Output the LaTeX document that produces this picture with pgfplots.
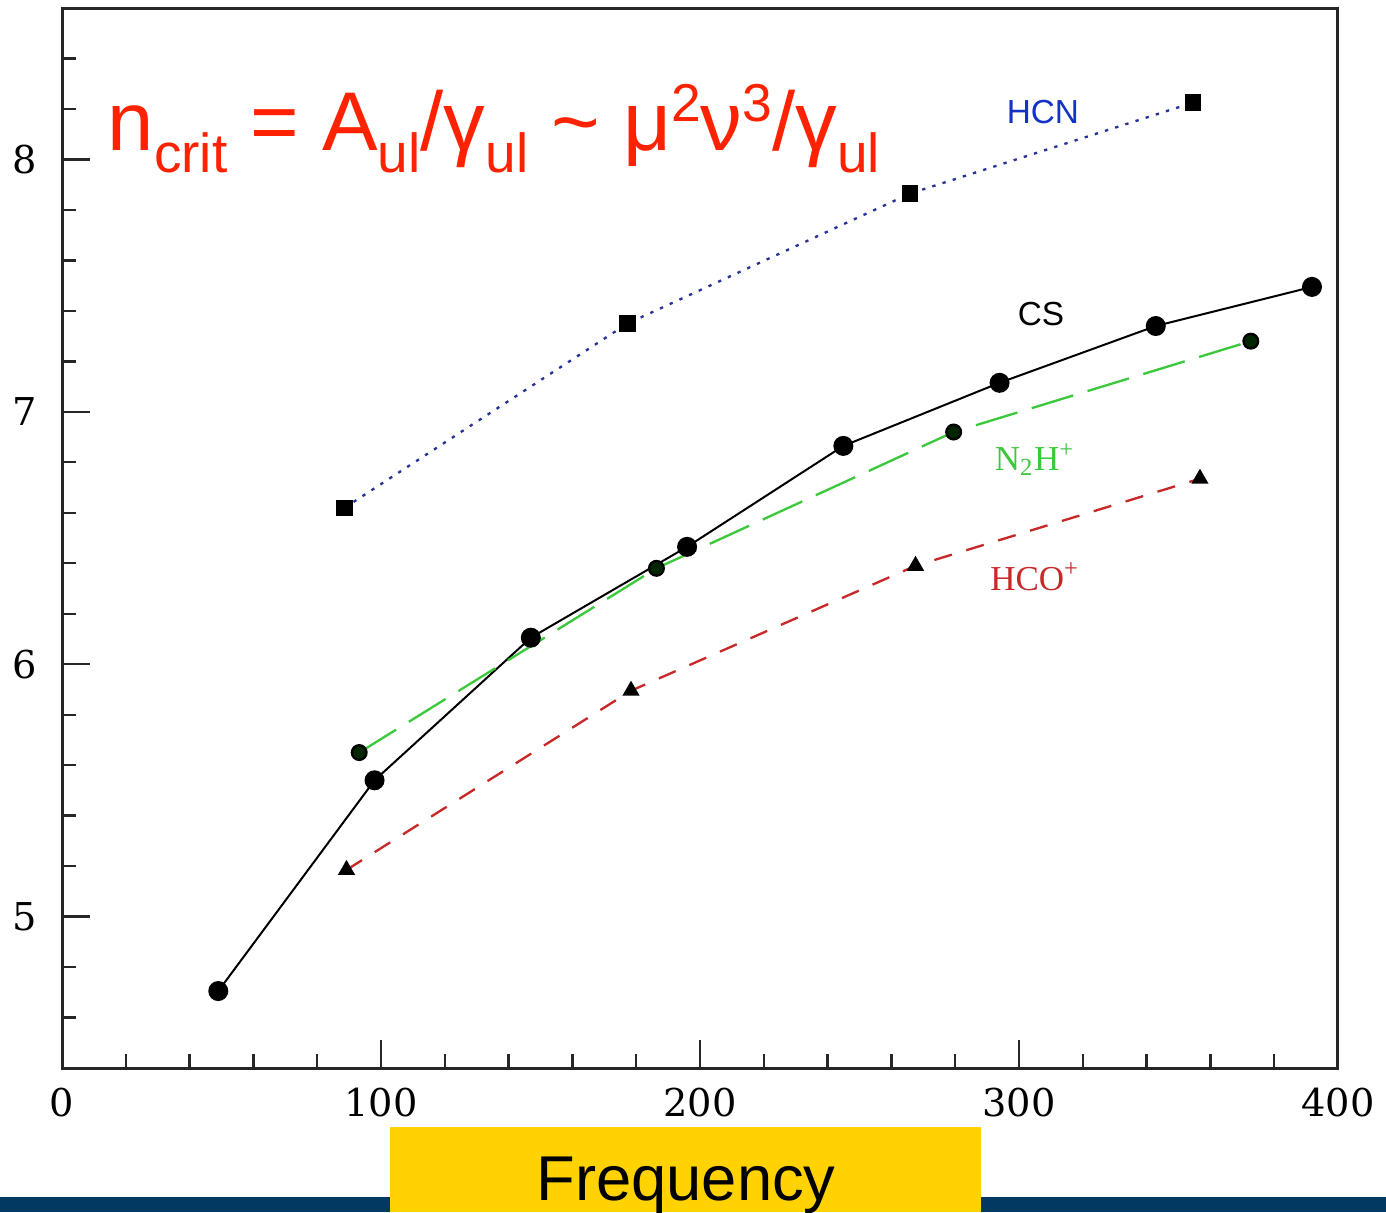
\documentclass[border=0pt]{standalone}
\usepackage{fontspec}
\usepackage{pgfplots}
\pgfplotsset{compat=1.18}
\setmainfont{Liberation Sans}
\newfontfamily\tickfont{DejaVu Serif}
\newfontfamily\serifl{Liberation Serif}
\definecolor{titlered}{RGB}{255,34,0}
\definecolor{hcnblue}{RGB}{40,50,150}
\definecolor{labblue}{RGB}{20,50,200}
\definecolor{n2hgreen}{RGB}{60,200,60}
\definecolor{hcored}{RGB}{200,40,40}
\definecolor{fyellow}{RGB}{255,210,0}
\definecolor{bandblue}{RGB}{0,58,99}
\newcommand\sub[1]{\raisebox{-0.27em}{\fontsize{16.5}{16.5}\selectfont #1}}
\newcommand\sups[1]{\raisebox{0.34em}{\fontsize{16}{16}\selectfont #1}}
\begin{document}
\begin{tikzpicture}
\begin{scope}[x=0.3pt,y=-0.3pt]
\path[use as bounding box] (0,0) rectangle (1386,1212);
\fill[bandblue] (0,1197) rectangle (1386,1212);
\fill[fyellow] (390,1127) rectangle (981,1212);
\node[anchor=base, inner sep=0pt, font=\fontsize{19}{19}\selectfont] at (686,1200) {Frequency};
\end{scope}
\begin{axis}[
  at={(18.6pt,-320.4pt)}, anchor=south west,
  scale only axis, width=382.8pt, height=318pt,
  xmin=0, xmax=400, ymin=4.4, ymax=8.6,
  xtick={0,100,...,400}, minor xtick={20,40,60,80,120,140,160,180,220,240,260,280,320,340,360,380},
  ytick={5,6,7,8}, minor ytick={4.6,4.8,5.2,5.4,5.6,5.8,6.2,6.4,6.6,6.8,7.2,7.4,7.6,7.8,8.2,8.4},
  tick align=inside, xtick pos=bottom, ytick pos=left,
  major tick length=8.5pt, minor tick length=4.2pt,
  axis line style={line width=0.9pt, black!85},
  tick style={line width=0.7pt, black!85},
  /pgf/number format/assume math mode=true,
  ticklabel style={font=\tickfont\fontsize{11.5}{11.5}\selectfont},
  xticklabel style={yshift=-2.5pt},
  yticklabel style={xshift=-4pt},
  clip=false,
]
\addplot[hcnblue, line width=0.7pt, dash pattern=on 1pt off 2.2pt, mark=square*, mark size=2.1pt, mark options={solid, fill=black, draw=black}]
  coordinates {(88.6,6.62)(177.3,7.35)(265.9,7.865)(354.5,8.225)};
\addplot[black, line width=0.6pt, mark=*, mark size=2.7pt, mark options={solid, fill=black, draw=black}]
  coordinates {(48.99,4.705)(97.98,5.54)(146.97,6.105)(195.95,6.465)(244.94,6.865)(293.91,7.115)(342.88,7.34)(391.85,7.495)};
\addplot[n2hgreen, line width=0.7pt, dash pattern=on 13pt off 4.5pt, mark=*, mark size=2.2pt, mark options={solid, fill=black!85!green, draw=black}]
  coordinates {(93.17,5.65)(186.34,6.38)(279.51,6.92)(372.67,7.28)};
\addplot[hcored, line width=0.7pt, dash pattern=on 5.5pt off 4.5pt, mark=triangle*, mark size=2.3pt, mark options={solid, fill=black, draw=black}]
  coordinates {(89.19,5.185)(178.38,5.895)(267.56,6.39)(356.73,6.735)};
\node[text=labblue, font=\fontsize{10}{10}\selectfont] at (axis cs:307.5,8.186) {HCN};
\node[text=black, font=\fontsize{10}{10}\selectfont] at (axis cs:306.9,7.386) {CS};
\node[text=n2hgreen, font=\serifl\fontsize{10.5}{10.5}\selectfont] at (axis cs:305,6.811) {N\textsubscript{2}H\textsuperscript{+}};
\node[text=hcored, font=\serifl\fontsize{10.5}{10.5}\selectfont] at (axis cs:305,6.347) {HCO\textsuperscript{+}};
\end{axis}
\begin{scope}[x=0.3pt,y=-0.3pt]
\node[anchor=base west, inner sep=0pt, text=titlered, font=\fontsize{25}{25}\selectfont] at (107,150)
  {n\sub{crit} = A\sub{ul}/γ\sub{ul} \symbol{"7E} μ\sups{2}ν\sups{3}/γ\sub{ul}};
\end{scope}
\end{tikzpicture}
\end{document}
